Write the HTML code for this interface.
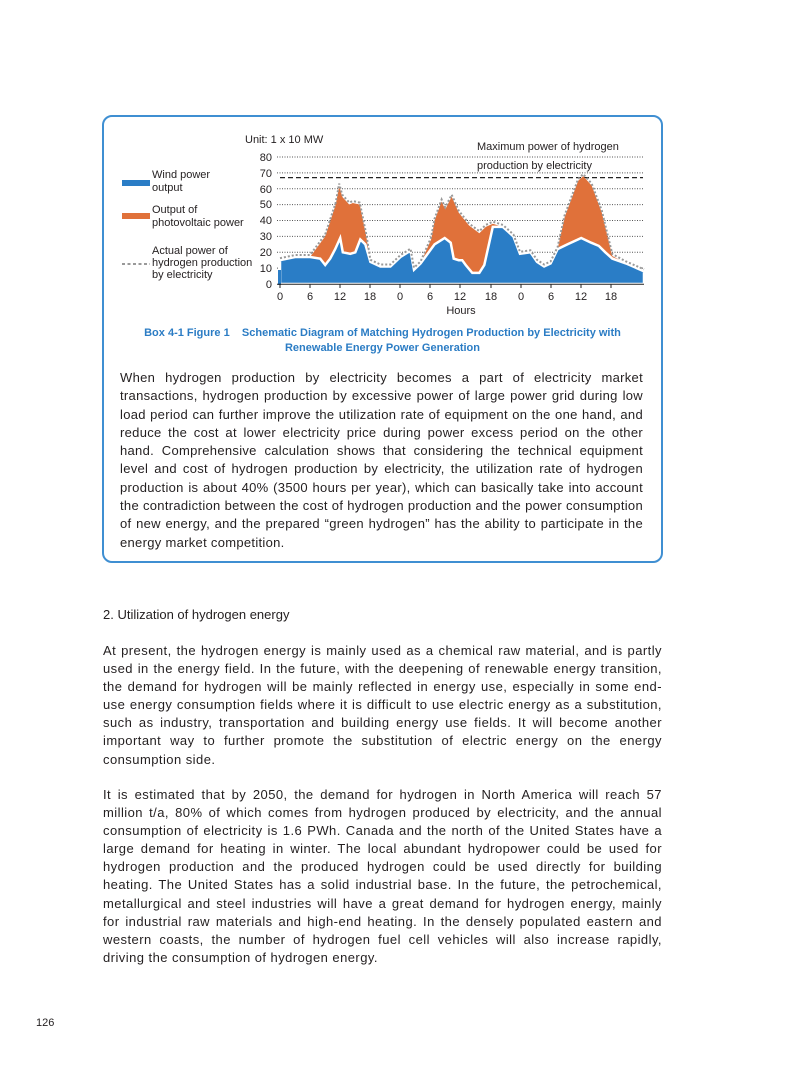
<!DOCTYPE html>
<html><head><meta charset="utf-8"><style>
body{margin:0;background:#fff;}
.page{position:relative;width:793px;height:1077px;background:#fff;font-family:"Liberation Sans",sans-serif;color:#231f20;}
.box{position:absolute;left:102px;top:115px;width:557px;height:444px;border:2px solid #3f8fd2;border-radius:10px;}
.cap{position:absolute;left:110px;top:326px;width:545px;text-align:center;color:#2b7cc4;font-weight:bold;font-size:11px;line-height:15px;}
.bt{position:absolute;left:120px;top:369px;width:523px;font-size:13px;line-height:18.3px;text-align:justify;letter-spacing:0.3px;}
.h2{position:absolute;left:103px;top:607px;font-size:13px;}
.p{position:absolute;left:103px;width:559px;font-size:13px;line-height:18.1px;text-align:justify;letter-spacing:0.45px;}
.pn{position:absolute;left:36px;top:1017px;font-size:11px;}
svg text{font-family:"Liberation Sans",sans-serif;font-size:11px;fill:#231f20;}
</style></head><body><div class="page">
<div class="box"></div>
<svg width="793" height="330" style="position:absolute;left:0;top:0">
<text x="245" y="143">Unit: 1 x 10 MW</text>
<g stroke="#555" stroke-width="1" stroke-dasharray="1,1.5">
<line x1="277" y1="157" x2="643" y2="157"/><line x1="277" y1="172.9" x2="643" y2="172.9"/>
<line x1="277" y1="188.8" x2="643" y2="188.8"/><line x1="277" y1="204.6" x2="643" y2="204.6"/>
<line x1="277" y1="220.5" x2="643" y2="220.5"/><line x1="277" y1="236.4" x2="643" y2="236.4"/>
<line x1="277" y1="252.3" x2="643" y2="252.3"/><line x1="277" y1="268.1" x2="643" y2="268.1"/>
</g>
<line x1="280" y1="177.6" x2="643" y2="177.6" stroke="#222" stroke-width="1.2" stroke-dasharray="5,3"/>
<text x="477" y="150">Maximum power of hydrogen</text>
<text x="477" y="169">production by electricity</text>
<polygon fill="#e0713a" points="280,260.2 295.1,257 310.1,257 325.2,236.4 335.7,204.6 339.2,185.6 342.2,196.7 349.3,204.6 352.8,203 359.8,204.6 366.3,236.4 370.4,261.8 380.4,266.5 390.4,266.5 400.5,257 410.5,250.7 414,269.7 420.6,263.4 431.1,239.5 434.6,220.5 441.6,201.5 445.2,209.4 451.7,196.7 458.7,212.6 468.8,225.3 479.3,233.2 485.8,226.9 492.8,223.7 502.9,226.9 513.4,236.4 520,253.8 530.5,252.3 537,261.8 544.1,266.5 550.6,263.4 557.6,249.1 564.6,217.3 578.2,180.8 583.2,176.1 591.7,185.6 601.8,212.6 612.3,256 625.9,263.4 644,271.3 644,284 280,284"/>
<polygon fill="#2a7dc6" stroke="#fff" stroke-width="2.5" points="280,260.2 295.1,257 310.1,257 320.2,258.6 325.2,265 330.2,258.6 335.2,249.1 340.2,238 342.8,252.3 350.3,253.8 355.3,252.3 360.3,239.5 365.3,244.3 370.4,261.8 380.4,266.5 390.4,266.5 400.5,257 410.5,250.7 414,269.7 420.6,263.4 434.6,244.3 444.7,238 450.7,242.7 453.7,258.6 458.7,260.2 462.2,260.2 465.7,265 472.3,272.9 479.3,272.9 484.3,265 492.8,226.9 502.9,226.9 513.4,236.4 520,253.8 530.5,252.3 537,261.8 544.1,266.5 550.6,263.4 557.6,249.1 567.6,244.3 581.2,238 591.2,242.7 598.8,245.9 605.3,252.3 612.3,258.6 625.9,263.4 644,271.3 644,284 280,284"/>
<rect x="278" y="270" width="3" height="15" fill="#2a7dc6"/>
<polyline fill="none" stroke="#999" stroke-width="2" stroke-dasharray="2,2" points="280,258.2 295.1,255 310.1,255 325.2,234.4 335.7,202.6 339.2,183.6 342.2,194.7 349.3,202.6 352.8,201 359.8,202.6 366.3,234.4 370.4,259.8 380.4,264.5 390.4,264.5 400.5,255 410.5,248.7 414,267.7 420.6,261.4 431.1,237.5 434.6,218.5 441.6,199.5 445.2,207.4 451.7,194.7 458.7,210.6 468.8,223.3 479.3,231.2 485.8,224.9 492.8,221.7 502.9,224.9 513.4,234.4 520,251.8 530.5,250.3 537,259.8 544.1,264.5 550.6,261.4 557.6,247.1 564.6,215.3 578.2,178.8 583.2,174.1 591.7,183.6 601.8,210.6 612.3,254 625.9,261.4 644,269.3"/>
<line x1="277" y1="284.3" x2="644" y2="284.3" stroke="#222" stroke-width="1"/>
<g stroke="#222"><line x1="280" y1="284" x2="280" y2="288"/><line x1="310" y1="284" x2="310" y2="288"/><line x1="340" y1="284" x2="340" y2="288"/><line x1="370" y1="284" x2="370" y2="288"/><line x1="400" y1="284" x2="400" y2="288"/><line x1="430" y1="284" x2="430" y2="288"/><line x1="460" y1="284" x2="460" y2="288"/><line x1="491" y1="284" x2="491" y2="288"/><line x1="521" y1="284" x2="521" y2="288"/><line x1="551" y1="284" x2="551" y2="288"/><line x1="581" y1="284" x2="581" y2="288"/><line x1="611" y1="284" x2="611" y2="288"/></g>
<g text-anchor="end"><text x="272" y="161">80</text><text x="272" y="177">70</text><text x="272" y="193">60</text><text x="272" y="208">50</text><text x="272" y="224">40</text><text x="272" y="240">30</text><text x="272" y="256">20</text><text x="272" y="272">10</text><text x="272" y="288">0</text></g>
<g text-anchor="middle"><text x="280" y="300">0</text><text x="310" y="300">6</text><text x="340" y="300">12</text><text x="370" y="300">18</text><text x="400" y="300">0</text><text x="430" y="300">6</text><text x="460" y="300">12</text><text x="491" y="300">18</text><text x="521" y="300">0</text><text x="551" y="300">6</text><text x="581" y="300">12</text><text x="611" y="300">18</text><text x="461" y="314">Hours</text></g>
<rect x="122" y="180" width="28" height="6" fill="#2a7dc6"/>
<text x="152" y="178">Wind power</text><text x="152" y="191">output</text>
<rect x="122" y="213" width="28" height="6" fill="#e0713a"/>
<text x="152" y="213">Output of</text><text x="152" y="226">photovoltaic power</text>
<line x1="122" y1="264" x2="150" y2="264" stroke="#999" stroke-width="2" stroke-dasharray="3,2.5"/>
<text x="152" y="254">Actual power of</text><text x="152" y="266">hydrogen production</text><text x="152" y="278">by electricity</text>
</svg>
<div class="cap">Box 4-1 Figure 1&nbsp;&nbsp;&nbsp; Schematic Diagram of Matching Hydrogen Production by Electricity with<br>Renewable Energy Power Generation</div>
<div class="bt">When hydrogen production by electricity becomes a part of electricity market transactions, hydrogen production by excessive power of large power grid during low load period can further improve the utilization rate of equipment on the one hand, and reduce the cost at lower electricity price during power excess period on the other hand. Comprehensive calculation shows that considering the technical equipment level and cost of hydrogen production by electricity, the utilization rate of hydrogen production is about 40% (3500 hours per year), which can basically take into account the contradiction between the cost of hydrogen production and the power consumption of new energy, and the prepared “green hydrogen” has the ability to participate in the energy market competition.</div>
<div class="h2">2. Utilization of hydrogen energy</div>
<div class="p" style="top:642px">At present, the hydrogen energy is mainly used as a chemical raw material, and is partly used in the energy field. In the future, with the deepening of renewable energy transition, the demand for hydrogen will be mainly reflected in energy use, especially in some end-use energy consumption fields where it is difficult to use electric energy as a substitution, such as industry, transportation and building energy use fields. It will become another important way to further promote the substitution of electric energy on the energy consumption side.</div>
<div class="p" style="top:786px">It is estimated that by 2050, the demand for hydrogen in North America will reach 57 million t/a, 80% of which comes from hydrogen produced by electricity, and the annual consumption of electricity is 1.6 PWh. Canada and the north of the United States have a large demand for heating in winter. The local abundant hydropower could be used for hydrogen production and the produced hydrogen could be used directly for building heating. The United States has a solid industrial base. In the future, the petrochemical, metallurgical and steel industries will have a great demand for hydrogen energy, mainly for industrial raw materials and high-end heating. In the densely populated eastern and western coasts, the number of hydrogen fuel cell vehicles will also increase rapidly, driving the consumption of hydrogen energy.</div>
<div class="pn">126</div>
</div></body></html>
